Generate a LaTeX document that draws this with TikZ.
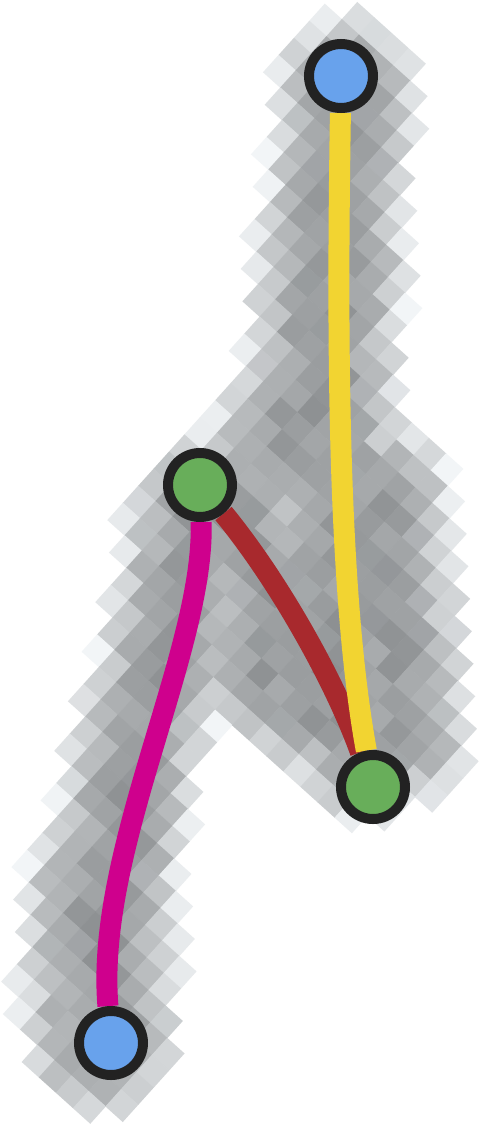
\documentclass[tikz,border=0pt]{standalone}
\pgfdeclarelayer{bg}
\pgfdeclarelayer{edge}
\pgfsetlayers{bg,edge,main}
\definecolor{nodeblue}{HTML}{68A2EC}
\definecolor{nodegreen}{HTML}{68AE5A}
\definecolor{nodeline}{HTML}{222222}
\definecolor{edgeyellow}{HTML}{F2D431}
\definecolor{edgered}{HTML}{A8292D}
\definecolor{edgemag}{HTML}{CF008D}
\newcommand\sgdist[5]{%
  \pgfmathsetmacro\sgdx{(#3-#1)/100}%
  \pgfmathsetmacro\sgdy{(#4-#2)/100}%
  \pgfmathsetmacro\sgpx{(\cx-#1)/100}%
  \pgfmathsetmacro\sgpy{(\cy-#2)/100}%
  \pgfmathsetmacro\sgt{max(0,min(1,(\sgpx*\sgdx+\sgpy*\sgdy)/(\sgdx*\sgdx+\sgdy*\sgdy)))}%
  \pgfmathsetmacro\sgf{veclen(\sgpx-\sgt*\sgdx,\sgpy-\sgt*\sgdy)*100/#5}%
  \ifdim\sgf pt<\fmin pt \edef\fmin{\sgf}\fi}
\newcommand\segtest[9]{%
  \ifdim\cx pt>#6pt \ifdim\cx pt<#7pt \ifdim\cy pt>#8pt \ifdim\cy pt<#9pt
    \sgdist{#1}{#2}{#3}{#4}{#5}%
  \fi\fi\fi\fi}
\begin{document}
\begin{tikzpicture}[x=1pt,y=1pt,
  vtx/.style={circle,draw=nodeline,line width=10pt,minimum size=64pt,inner sep=0pt},
  bluev/.style={vtx,fill=nodeblue},
  greenv/.style={vtx,fill=nodegreen},
  lnk/.style={line width=21pt,line cap=butt}]
\useasboundingbox (0,0) rectangle (480,-1124);
\begin{pgfonlayer}{bg}
\fill[white] (0,0) rectangle (480,-1124);
\begin{scope}
\clip (0,0) rectangle (480,-1124);
\pgfmathsetseed{11}
\foreach \i in {-25,...,25}{\foreach \j in {-26,...,26}{%
  \pgfmathsetmacro\cx{240+\i*17.09-\j*15.39}%
  \pgfmathsetmacro\cy{562+\i*15.39+\j*17.09}%
  \pgfmathsetmacro\ty{-\cy}%
  \def\fmin{9}%
  \segtest{345}{85}{330}{260}{72}{258}{417}{13}{332}%
  \segtest{330}{260}{322}{400}{82}{240}{412}{178}{482}%
  \segtest{322}{400}{340}{560}{80}{242}{420}{320}{640}%
  \segtest{340}{560}{362}{745}{78}{262}{440}{482}{823}%
  \segtest{322}{400}{280}{450}{78}{202}{400}{322}{528}%
  \segtest{375}{500}{395}{730}{78}{297}{473}{422}{808}%
  \segtest{261}{664}{360}{735}{78}{183}{438}{586}{813}%
  \segtest{215}{510}{250}{550}{78}{137}{328}{432}{628}%
  \segtest{250}{550}{300}{633}{78}{172}{378}{472}{711}%
  \segtest{300}{633}{345}{720}{78}{222}{423}{555}{798}%
  \segtest{192}{515}{185}{580}{70}{115}{262}{445}{650}%
  \segtest{185}{580}{162}{680}{70}{92}{255}{510}{750}%
  \segtest{162}{680}{132}{760}{68}{64}{230}{612}{828}%
  \segtest{132}{760}{120}{833}{68}{52}{200}{692}{901}%
  \segtest{120}{833}{101}{900}{72}{29}{192}{761}{972}%
  \segtest{101}{900}{99}{1000}{82}{17}{183}{818}{1082}%
  \segtest{99}{1000}{102}{1043}{78}{21}{180}{922}{1121}%
  \ifdim\fmin pt<1pt
    \pgfmathsetmacro\L{min(0.95,max(0.55,0.6+0.34*\fmin*\fmin+0.1*(rnd-0.5)))}%
    \pgfmathsetmacro\Lg{min(1,\L+0.012)}%
    \pgfmathsetmacro\Lb{min(1,\L+0.02)}%
    \definecolor{cellc}{rgb}{\L,\Lg,\Lb}%
    \fill[cellc,shift={(\cx,\ty)}] (0.87,-16.5) -- (16.5,0.87) -- (-0.87,16.5) -- (-16.5,-0.87) -- cycle;
  \fi
}}
\end{scope}
\end{pgfonlayer}
\node[bluev] (a) at (341,-76) {};
\node[greenv] (c) at (200,-485) {};
\node[greenv] (b) at (373,-787) {};
\node[bluev] (d) at (111,-1043) {};
\begin{pgfonlayer}{edge}
\draw[lnk,edgered] (c) .. controls (275,-576) and (333,-676) .. (b);
\draw[lnk,edgemag] (c) .. controls (205,-650) and (95,-850) .. (d);
\draw[lnk,edgeyellow] (a) .. controls (337,-330) and (337,-590) .. (b);
\end{pgfonlayer}
\end{tikzpicture}
\end{document}
